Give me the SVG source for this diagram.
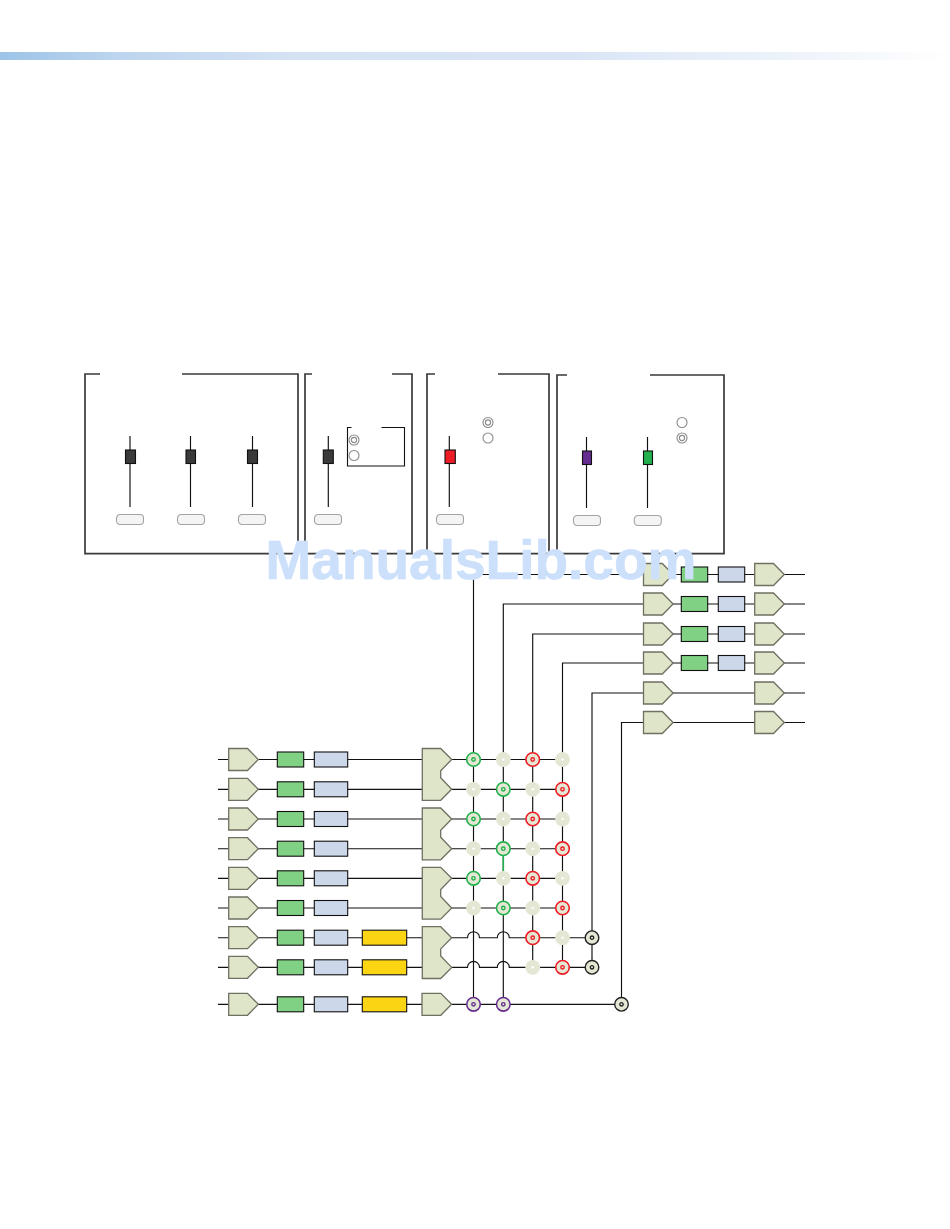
<svg xmlns="http://www.w3.org/2000/svg" xmlns:xlink="http://www.w3.org/1999/xlink" width="950" height="1229" viewBox="0 0 950 1229">
<style>
.panel{fill:none;stroke:#3a3a3a;stroke-width:1.7}
.thin{fill:none;stroke:#111;stroke-width:1.1}
.wire{fill:none;stroke:#111;stroke-width:1.15}
.pent{fill:#dfe5c9;stroke:#6f6f62;stroke-width:1.3}
.gr{fill:#80d183;stroke:#111;stroke-width:1.1}
.bl{fill:#ccd7ea;stroke:#111;stroke-width:1.1}
.ye{fill:#fbd413;stroke:#111;stroke-width:1.1}
.btn{fill:#f4f4f4;stroke:#a4a4a4;stroke-width:1.1}
.radio{fill:#fff;stroke:#8a8a8a;stroke-width:1.1}
.knob{stroke:#111;stroke-width:1.1}
.wm{font-family:"Liberation Sans",Arial,sans-serif;font-weight:700;font-size:55px;fill:#cce0fb;stroke:#cce0fb;stroke-width:0.7}
</style>
<defs>
<linearGradient id="barGrad" x1="0" x2="1" y1="0" y2="0">
<stop offset="0" stop-color="#9cc4e8"/>
<stop offset="0.12" stop-color="#bcd4ee"/>
<stop offset="0.3" stop-color="#d4e2f4"/>
<stop offset="0.6" stop-color="#d9e5f6"/>
<stop offset="0.85" stop-color="#eff4fb"/>
<stop offset="1" stop-color="#ffffff"/>
</linearGradient>
<path id="p" class="pent" d="M0 -11H18.8L29.6 0L18.8 11H0Z"/>
<path id="d" class="pent" d="M0 -11H18.4L29.4 0L18.4 11.2V18.2L29.4 29.7L18.4 40.8H0Z"/>
<rect id="g" class="gr" x="0" y="-7.5" width="26.4" height="15"/>
<rect id="b" class="bl" x="0" y="-7.5" width="33.4" height="15"/>
<rect id="bs" class="bl" x="0" y="-7.5" width="26.4" height="15"/>
<rect id="y" class="ye" x="0" y="-7.5" width="44.4" height="15"/>
<rect id="k" class="btn" x="0" y="0" width="27" height="10" rx="3.5"/>
<g id="o"><circle r="7.4" fill="#e4e7d3"/><circle r="1.2" fill="#fff"/></g>
<g id="og"><circle r="6.8" fill="#e4e7d3" stroke="#22b14c" stroke-width="1.6"/><circle r="1.7" fill="#e4e7d3" stroke="#22b14c" stroke-width="1.4"/></g>
<g id="or"><circle r="6.8" fill="#e4e7d3" stroke="#ee1c25" stroke-width="1.6"/><circle r="1.7" fill="#e4e7d3" stroke="#ee1c25" stroke-width="1.4"/></g>
<g id="op"><circle r="6.8" fill="#e4e7d3" stroke="#662d91" stroke-width="1.6"/><circle r="1.7" fill="#e4e7d3" stroke="#662d91" stroke-width="1.4"/></g>
<g id="ok"><circle r="6.8" fill="#e4e7d3" stroke="#222" stroke-width="1.4"/><circle r="1.7" fill="#e4e7d3" stroke="#222" stroke-width="1.3"/></g>
<g id="rs"><circle class="radio" r="5"/><circle r="2.6" fill="none" stroke="#8a8a8a" stroke-width="1.1"/></g>
</defs>

<rect id="top-bar" x="0" y="52" width="950" height="8" fill="url(#barGrad)"/>

<g id="panels">
<path class="panel" d="M100 374H85V553.7H298V374H182"/>
<path class="panel" d="M312 374H305V553.7H412V374H392"/>
<path class="panel" d="M435 374H427V553.7H549V374H498"/>
<path class="panel" d="M567 375H557V553.7H724V375H650"/>
<path class="thin" d="M351.5 427.5H347.5V466H404.5V427.5H381.5"/>
</g>

<g id="connectors">
<path class="wire" d="M130 436V507M190.5 436V507M252.5 436V507M328.3 436V507M449.3 436V507M586.5 437V508M647.5 437V508"/>
<path class="wire" d="M218 759.5H422M218 789.3H422M218 819H422M218 848.7H422M218 878.3H422M218 908H422M218 937.7H422M218 967.3H422M218 1004.3H422"/>
<path class="wire" d="M451.7 759.5H562.5M451.7 789.3H562.5M451.7 819H562.5M451.7 848.7H562.5M451.7 878.3H562.5M451.7 908H562.5"/>
<path class="wire" d="M451.7 937.7H467.5a6 6 0 0 1 12 0H497.3a6 6 0 0 1 12 0H592"/>
<path class="wire" d="M451.7 967.3H467.5a6 6 0 0 1 12 0H497.3a6 6 0 0 1 12 0H592"/>
<path class="wire" d="M451.7 1004.3H621.5"/>
<path class="wire" d="M473.5 1004.3V574.5H805M503.3 1004.3V604H805M532.7 967.3V634H805M562.5 967.3V663H805M592 967.3V693H805M621.5 1004.3V722.5H805"/>
<path d="M503.3 855V872" fill="none" stroke="#22b14c" stroke-width="1.6"/>
</g>

<g id="controls">
<g id="fader1"><rect class="knob" fill="#3a3a3a" x="125.5" y="450" width="10" height="13.5"/><use href="#k" x="116.5" y="514.5"/></g>
<g id="fader2"><rect class="knob" fill="#3a3a3a" x="186" y="450" width="9.5" height="13.5"/><use href="#k" x="177.5" y="514.5"/></g>
<g id="fader3"><rect class="knob" fill="#3a3a3a" x="247.5" y="450" width="10" height="13.5"/><use href="#k" x="238.5" y="514.5"/></g>
<g id="fader4"><rect class="knob" fill="#3a3a3a" x="323.3" y="450" width="10" height="13.5"/><use href="#k" x="314.5" y="514.5"/></g>
<g id="fader5"><rect class="knob" fill="#ee1c25" x="445" y="450" width="10.3" height="13.5"/><use href="#k" x="436.5" y="514.5"/></g>
<g id="fader6"><rect class="knob" fill="#662d91" x="582.5" y="451" width="9" height="13.5"/><use href="#k" x="573.5" y="515.5"/></g>
<g id="fader7"><rect class="knob" fill="#22b14c" x="643.5" y="451" width="9" height="13.5"/><use href="#k" x="634.3" y="515.5"/></g>
<g id="radio1"><use href="#rs" x="354" y="440"/></g>
<g id="radio2"><circle class="radio" cx="354" cy="455.5" r="5"/></g>
<g id="radio3"><use href="#rs" x="488" y="422.5"/></g>
<g id="radio4"><circle class="radio" cx="488" cy="438" r="5"/></g>
<g id="radio5"><circle class="radio" cx="682" cy="422.5" r="5"/></g>
<g id="radio6"><use href="#rs" x="682" y="438"/></g>
</g>

<g id="in-row1"><use href="#p" x="228.7" y="759.5"/><use href="#g" x="277.3" y="759.5"/><use href="#b" x="314.3" y="759.5"/></g>
<g id="in-row2"><use href="#p" x="228.7" y="789.3"/><use href="#g" x="277.3" y="789.3"/><use href="#b" x="314.3" y="789.3"/></g>
<g id="in-row3"><use href="#p" x="228.7" y="819"/><use href="#g" x="277.3" y="819"/><use href="#b" x="314.3" y="819"/></g>
<g id="in-row4"><use href="#p" x="228.7" y="848.7"/><use href="#g" x="277.3" y="848.7"/><use href="#b" x="314.3" y="848.7"/></g>
<g id="in-row5"><use href="#p" x="228.7" y="878.3"/><use href="#g" x="277.3" y="878.3"/><use href="#b" x="314.3" y="878.3"/></g>
<g id="in-row6"><use href="#p" x="228.7" y="908"/><use href="#g" x="277.3" y="908"/><use href="#b" x="314.3" y="908"/></g>
<g id="in-row7"><use href="#p" x="228.7" y="937.7"/><use href="#g" x="277.3" y="937.7"/><use href="#b" x="314.3" y="937.7"/><use href="#y" x="362.3" y="937.7"/></g>
<g id="in-row8"><use href="#p" x="228.7" y="967.3"/><use href="#g" x="277.3" y="967.3"/><use href="#b" x="314.3" y="967.3"/><use href="#y" x="362.3" y="967.3"/></g>
<g id="in-row9"><use href="#p" x="228.7" y="1004.3"/><use href="#g" x="277.3" y="1004.3"/><use href="#b" x="314.3" y="1004.3"/><use href="#y" x="362.3" y="1004.3"/></g>

<g id="sum1"><use href="#d" x="422.3" y="759.5"/></g>
<g id="sum2"><use href="#d" x="422.3" y="819"/></g>
<g id="sum3"><use href="#d" x="422.3" y="878.3"/></g>
<g id="sum4"><use href="#d" x="422.3" y="937.7"/></g>
<g id="sum5"><use href="#p" x="422" y="1004.3"/></g>

<g id="matrix">
<use href="#og" x="473.5" y="759.5"/><use href="#o" x="503.3" y="759.5"/><use href="#or" x="532.7" y="759.5"/><use href="#o" x="562.5" y="759.5"/>
<use href="#o" x="473.5" y="789.3"/><use href="#og" x="503.3" y="789.3"/><use href="#o" x="532.7" y="789.3"/><use href="#or" x="562.5" y="789.3"/>
<use href="#og" x="473.5" y="819"/><use href="#o" x="503.3" y="819"/><use href="#or" x="532.7" y="819"/><use href="#o" x="562.5" y="819"/>
<use href="#o" x="473.5" y="848.7"/><use href="#og" x="503.3" y="848.7"/><use href="#o" x="532.7" y="848.7"/><use href="#or" x="562.5" y="848.7"/>
<use href="#og" x="473.5" y="878.3"/><use href="#o" x="503.3" y="878.3"/><use href="#or" x="532.7" y="878.3"/><use href="#o" x="562.5" y="878.3"/>
<use href="#o" x="473.5" y="908"/><use href="#og" x="503.3" y="908"/><use href="#o" x="532.7" y="908"/><use href="#or" x="562.5" y="908"/>
<use href="#or" x="532.7" y="937.7"/><use href="#o" x="562.5" y="937.7"/><use href="#ok" x="592" y="937.7"/>
<use href="#o" x="532.7" y="967.3"/><use href="#or" x="562.5" y="967.3"/><use href="#ok" x="592" y="967.3"/>
<use href="#op" x="473.5" y="1004.3"/><use href="#op" x="503.3" y="1004.3"/><use href="#ok" x="621.5" y="1004.3"/>
</g>

<g id="out-row1"><use href="#p" x="643.5" y="574.5"/><use href="#g" x="681.3" y="574.5"/><use href="#bs" x="718.3" y="574.5"/><use href="#p" x="754.7" y="574.5"/></g>
<g id="out-row2"><use href="#p" x="643.5" y="604"/><use href="#g" x="681.3" y="604"/><use href="#bs" x="718.3" y="604"/><use href="#p" x="754.7" y="604"/></g>
<g id="out-row3"><use href="#p" x="643.5" y="634"/><use href="#g" x="681.3" y="634"/><use href="#bs" x="718.3" y="634"/><use href="#p" x="754.7" y="634"/></g>
<g id="out-row4"><use href="#p" x="643.5" y="663"/><use href="#g" x="681.3" y="663"/><use href="#bs" x="718.3" y="663"/><use href="#p" x="754.7" y="663"/></g>
<g id="out-row5"><use href="#p" x="643.5" y="693"/><use href="#p" x="754.7" y="693"/></g>
<g id="out-row6"><use href="#p" x="643.5" y="722.5"/><use href="#p" x="754.7" y="722.5"/></g>

<text id="watermark" class="wm" x="265.5" y="578.6">ManualsLib.com</text>
</svg>
